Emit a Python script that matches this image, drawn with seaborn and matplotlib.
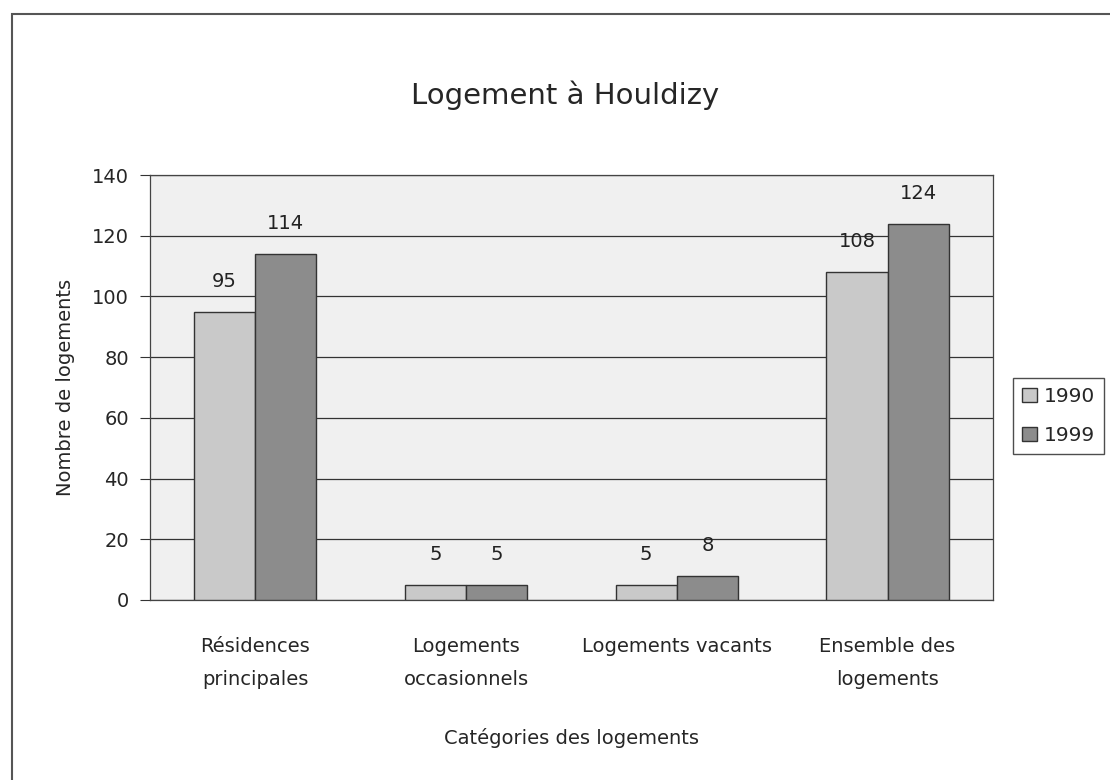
import pandas as pd
import matplotlib.pyplot as plt
import seaborn as sns
from matplotlib.patches import Rectangle

categories = ['Résidences\nprincipales', 'Logements\noccasionnels',
              'Logements vacants', 'Ensemble des\nlogements']
years = ['1990', '1999']
values_1990 = [95, 5, 5, 108]
values_1999 = [114, 5, 8, 124]

df = pd.DataFrame({
    'categorie': categories * 2,
    'annee': [years[0]] * 4 + [years[1]] * 4,
    'valeur': values_1990 + values_1999,
})

sns.set_style('white')
plt.rcParams['font.family'] = ['DejaVu Sans']

fig = plt.figure(figsize=(11.1, 7.8), dpi=100)
ax = fig.add_axes([0.135, 0.2308, 0.7595, 0.5448])
ax.set_facecolor('#f0f0f0')

palette = {'1990': '#c9c9c9', '1999': '#8c8c8c'}
sns.barplot(data=df, x='categorie', y='valeur', hue='annee', order=categories,
            hue_order=years, palette=palette, width=0.58, edgecolor='#333333',
            linewidth=1.0, saturation=1, ax=ax, zorder=3)

for cont in ax.containers:
    ax.bar_label(cont, padding=15, fontsize=14, color='#222222')

ax.set_ylim(0, 140)
ax.set_yticks(range(0, 141, 20))
ax.yaxis.grid(True, color='#333333', linewidth=0.9, zorder=0)
ax.set_axisbelow(True)
ax.tick_params(axis='y', labelsize=14, length=7, pad=8, direction='out', left=True, color='#333333')
ax.tick_params(axis='x', labelsize=14, pad=27, bottom=True, color='#333333')
ax.set_xticks([-0.5, 0.5, 1.5, 2.5, 3.5], minor=True)
ax.tick_params(axis='x', which='major', length=0)
ax.tick_params(axis='x', which='minor', length=6, color='#333333')
for lbl in ax.get_xticklabels():
    lbl.set_linespacing(1.9)
for s in ax.spines.values():
    s.set_color('#444444')
    s.set_linewidth(0.9)
ax.set_xlim(-0.5, 3.5)

ax.set_ylabel('Nombre de logements', fontsize=14, labelpad=12)
ax.set_xlabel('Catégories des logements', fontsize=14, labelpad=28)
fig.text(0.509, 0.878, 'Logement à Houldizy', fontsize=21, ha='center', va='center')

ax.legend(loc='center left', bbox_to_anchor=(1.024, 0.433), frameon=True,
          fancybox=False, edgecolor='#222222', fontsize=14.5, handlelength=0.75,
          handleheight=0.75, handletextpad=0.3, borderpad=0.45, labelspacing=1.0,
          borderaxespad=0)

fig.patches.append(Rectangle((0.011, -0.01), 1.0, 0.992, transform=fig.transFigure,
                             fill=False, edgecolor='#555555', linewidth=1.5))

fig.savefig('out.png', dpi=100, facecolor='white')
